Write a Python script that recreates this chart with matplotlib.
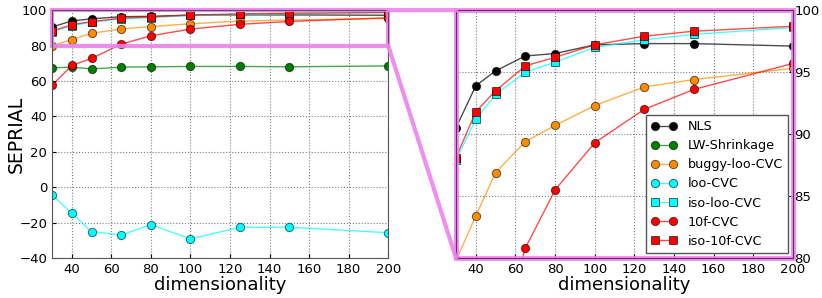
import matplotlib
matplotlib.use("Agg")
import matplotlib.pyplot as plt
from matplotlib.patches import Rectangle, ConnectionPatch

dims = [30, 40, 50, 65, 80, 100, 125, 150, 200]

nls = [90.5, 93.9, 95.1, 96.3, 96.5, 97.2, 97.3, 97.3, 97.1]
lw_shrinkage = [67.4, 67.8, 66.8, 67.8, 68.0, 68.2, 68.2, 68.0, 68.5]
buggy_loo_cvc = [79.8, 83.4, 86.9, 89.4, 90.7, 92.3, 93.8, 94.4, 95.3]
loo_cvc = [-4.3, -14.7, -25.1, -27.0, -21.1, -29.2, -22.6, -22.6, -25.7]
iso_loo_cvc = [87.9, 91.2, 93.2, 95.0, 95.8, 97.0, 97.6, 98.05, 98.6]
f10_cvc = [57.5, 68.8, 72.7, 80.8, 85.5, 89.3, 92.0, 93.6, 95.7]
iso_f10_cvc = [88.1, 91.8, 93.5, 95.5, 96.2, 97.2, 97.9, 98.3, 98.7]

series = [
    ("NLS", nls, (0, 0, 0), "o"),
    ("LW-Shrinkage", lw_shrinkage, (0, 0.5, 0), "o"),
    ("buggy-loo-CVC", buggy_loo_cvc, (1, 0.55, 0), "o"),
    ("loo-CVC", loo_cvc, (0, 1, 1), "o"),
    ("iso-loo-CVC", iso_loo_cvc, (0, 1, 1), "s"),
    ("10f-CVC", f10_cvc, (1, 0, 0), "o"),
    ("iso-10f-CVC", iso_f10_cvc, (1, 0, 0), "s"),
]

zoom_color = "violet"

fig = plt.figure(figsize=(8.22, 2.98), dpi=100)
ax1 = fig.add_axes([0.0633, 0.134, 0.409, 0.832])
ax2 = fig.add_axes([0.5547, 0.134, 0.41, 0.832])


def draw(ax):
    for name, vals, col, mk in series:
        ax.plot(dims, vals, color=col + (0.7,), lw=1, marker=mk, ms=6,
                mfc=col + (1,), mec=(0, 0, 0, 0.6), mew=0.7, label=name)
    ax.grid(True, linestyle=":", color="gray", lw=0.8)
    ax.set_xlim(30, 200)
    ax.set_xticks(range(40, 201, 20))
    ax.tick_params(labelsize=9.5, direction="in", length=3)
    ax.set_xlabel("dimensionality", fontsize=13, labelpad=0)
    for s in ax.spines.values():
        s.set_color("#555555")
        s.set_zorder(6)


draw(ax1)
ax1.set_ylim(-40, 100)
ax1.set_yticks(range(-40, 101, 20))
ax1.set_ylabel("SEPRIAL", fontsize=13.5)
ax1.yaxis.set_label_coords(-0.078, 0.5)

draw(ax2)
ax2.set_ylim(80, 100)
ax2.set_yticks(range(80, 101, 5))
ax2.yaxis.tick_right()
ax2.tick_params(axis="y", pad=1)
for s in ax2.spines.values():
    s.set_color("#6a2a6a")
ax2.legend(loc="lower right", fontsize=9.2, numpoints=2, fancybox=False,
           edgecolor="#555555", framealpha=1, handlelength=2,
           borderaxespad=0.4, labelspacing=0.48)

# zoom marks
ax1.add_patch(Rectangle((30, 80), 170, 20, fill=False, ec=zoom_color, lw=3,
                        alpha=0.9, clip_on=False, zorder=5))
ax2.add_patch(Rectangle((0, 0), 1, 1, transform=ax2.transAxes, fill=False,
                        ec=zoom_color, lw=3.5, alpha=0.9, clip_on=False, zorder=5))
for yv in (100, 80):
    con = ConnectionPatch(xyA=(200, yv), coordsA=ax1.transData,
                          xyB=(30, yv), coordsB=ax2.transData,
                          color=zoom_color, lw=3, alpha=0.9)
    fig.add_artist(con)

fig.savefig("out.png", dpi=100)
